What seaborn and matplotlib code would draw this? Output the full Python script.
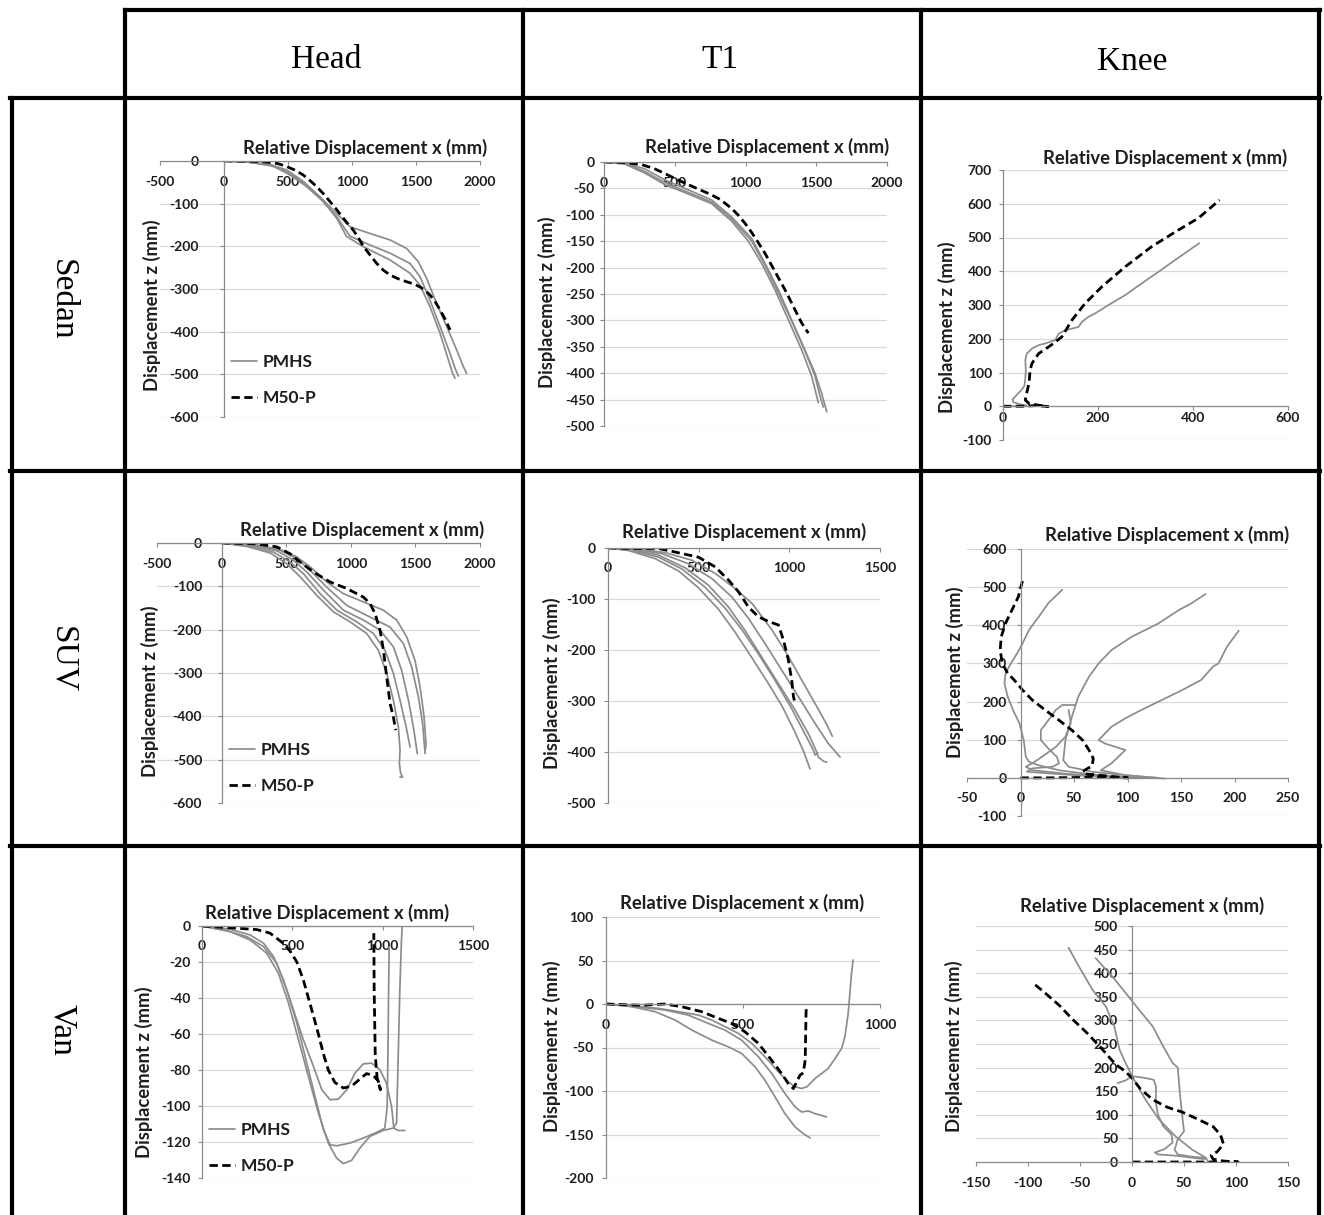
import matplotlib
matplotlib.use("Agg")
import matplotlib.pyplot as plt
from matplotlib.lines import Line2D
from matplotlib.ticker import MultipleLocator
import numpy as np
import pandas as pd
import seaborn as sns

# ------------------------------------------------------------------
# Trajectories: (relative displacement x, displacement z) in mm
# ------------------------------------------------------------------
# Sedan / Head
sedan_head_m50 = [(0, 0), (150, -0.5), (307, -1.5), (420, -6), (490, -13), (560, -22), (620, -33),
                  (680, -48), (724, -60), (780, -78), (828, -95), (880, -114), (932, -134), (975, -150),
                  (1010, -162), (1050, -180), (1089, -200), (1140, -220), (1193, -240), (1245, -256),
                  (1297, -267), (1360, -276), (1427, -283), (1480, -288), (1531, -295), (1570, -303),
                  (1609, -314), (1650, -330), (1688, -349), (1730, -372), (1766, -396)]
sedan_head_pmhs_a = [(0, 0), (177, -2), (359, -8), (490, -21), (620, -48), (750, -84), (880, -123),
                     (984, -154), (1141, -170), (1297, -185), (1427, -205), (1518, -236), (1583, -275),
                     (1661, -334), (1740, -388), (1818, -443), (1870, -482), (1896, -498)]
sedan_head_pmhs_b = [(0, 0), (177, -2), (359, -10), (490, -25), (620, -52), (750, -87), (880, -130),
                     (984, -176), (1141, -197), (1297, -216), (1453, -240), (1531, -271), (1609, -326),
                     (1688, -388), (1766, -451), (1805, -486), (1831, -504)]
sedan_head_pmhs_c = [(0, 0), (203, -3), (385, -12), (516, -33), (646, -60), (776, -95), (880, -134),
                     (958, -177), (1089, -201), (1297, -232), (1453, -263), (1531, -291), (1609, -341),
                     (1688, -404), (1753, -466), (1786, -498), (1805, -509)]

# Sedan / T1
sedan_t1_m50 = [(0, 0), (148, -1), (266, -5), (350, -12), (431, -22), (500, -31), (572, -40), (630, -47),
                (690, -54), (750, -61), (808, -69), (855, -78), (902, -88), (950, -101), (996, -116),
                (1045, -134), (1091, -153), (1140, -174), (1185, -196), (1232, -219), (1279, -242),
                (1315, -261), (1350, -280), (1397, -305), (1444, -324)]
sedan_t1_pmhs_a = [(0, 0), (148, -2), (289, -13), (431, -34), (572, -50), (761, -72), (902, -104),
                   (1044, -145), (1138, -192), (1232, -242), (1326, -299), (1420, -356), (1491, -400),
                   (1538, -438), (1574, -473)]
sedan_t1_pmhs_b = [(0, 0), (148, -3), (289, -18), (431, -39), (572, -55), (761, -76), (902, -108),
                   (1044, -150), (1138, -196), (1232, -248), (1326, -301), (1420, -358), (1491, -405),
                   (1527, -444), (1550, -464)]
sedan_t1_pmhs_c = [(0, 0), (148, -4), (289, -21), (431, -43), (572, -58), (761, -79), (902, -112),
                   (1020, -150), (1114, -192), (1208, -242), (1303, -299), (1397, -356), (1468, -406),
                   (1515, -456)]

# Sedan / Knee
sedan_knee_m50 = [(0, 0), (45, 0), (70, 2), (95, -1), (75, 3), (55, 8), (47, 18), (50, 40), (55, 70),
                  (57, 107), (61, 127), (75, 156), (96, 176), (110, 190), (124, 206), (145, 255),
                  (173, 305), (208, 354), (257, 413), (313, 473), (369, 522), (411, 557), (456, 611)]
sedan_knee_pmhs = [(0, 0), (30, 0), (50, 2), (35, 6), (22, 12), (20, 20), (28, 32), (38, 47), (45, 60),
                   (47, 82), (48, 107), (47, 137), (50, 156), (61, 171), (75, 181), (89, 186), (99, 191),
                   (110, 196), (117, 215), (131, 225), (145, 230), (159, 235), (166, 250), (180, 265),
                   (194, 275), (222, 300), (257, 329), (292, 364), (327, 398), (362, 433), (413, 483)]

# SUV / Head
suv_head_m50 = [(0, 0), (273, -2), (428, -9), (531, -25), (608, -44), (711, -67), (840, -90),
                (969, -105), (1098, -125), (1149, -140), (1188, -163), (1227, -202), (1253, -248),
                (1278, -310), (1304, -371), (1330, -402), (1343, -425), (1348, -432)]
suv_head_pmhs_a = [(0, 0), (273, -5), (454, -15), (582, -32), (686, -55), (814, -90), (943, -117),
                   (1098, -136), (1252, -155), (1356, -178), (1433, -217), (1497, -271), (1536, -332),
                   (1567, -401), (1582, -463), (1577, -478)]
suv_head_pmhs_b = [(0, 0), (273, -5), (454, -17), (582, -36), (686, -63), (814, -102), (969, -144),
                   (1149, -171), (1304, -194), (1407, -232), (1471, -286), (1523, -355), (1556, -417),
                   (1575, -486)]
suv_head_pmhs_c = [(0, 0), (247, -6), (428, -18), (557, -40), (660, -67), (789, -109), (943, -155),
                   (1098, -178), (1227, -201), (1330, -240), (1394, -294), (1446, -363), (1484, -424),
                   (1515, -486)]
suv_head_pmhs_d = [(0, 0), (222, -7), (402, -21), (531, -44), (634, -71), (763, -117), (892, -155),
                   (1046, -182), (1175, -209), (1265, -248), (1330, -301), (1381, -363), (1428, -424),
                   (1459, -471)]
suv_head_pmhs_e = [(0, 0), (196, -8), (376, -23), (505, -48), (608, -78), (737, -121), (866, -159),
                   (995, -182), (1124, -209), (1214, -248), (1278, -301), (1330, -363), (1368, -424),
                   (1381, -478), (1376, -509), (1386, -532), (1402, -540), (1381, -540)]

# SUV / T1
suv_t1_m50 = [(0, 0), (132, -1), (279, -1), (371, -8), (499, -18), (591, -37), (665, -63), (720, -86),
              (775, -116), (830, -135), (885, -144), (940, -151), (968, -181), (995, -220), (1013, -259),
              (1023, -292), (1028, -299)]
suv_t1_pmhs_a = [(0, 0), (169, -2), (314, -9), (463, -24), (592, -50), (703, -80), (795, -109),
                 (905, -161), (997, -214), (1089, -272), (1163, -318), (1209, -348), (1237, -369)]
suv_t1_pmhs_b = [(0, 0), (152, -3), (297, -11), (444, -31), (573, -60), (683, -96), (775, -138),
                 (867, -188), (959, -240), (1051, -292), (1142, -344), (1216, -384), (1280, -410)]
suv_t1_pmhs_c = [(0, 0), (132, -3), (279, -14), (426, -39), (554, -73), (665, -116), (756, -162),
                 (848, -214), (940, -266), (1032, -318), (1105, -364), (1151, -400), (1160, -410),
                 (1188, -418), (1206, -420)]
suv_t1_pmhs_d = [(0, 0), (132, -5), (279, -18), (407, -41), (536, -77), (646, -118), (738, -160),
                 (830, -208), (922, -260), (1013, -315), (1087, -365), (1133, -397), (1142, -406),
                 (1157, -402)]
suv_t1_pmhs_e = [(0, 0), (114, -5), (261, -21), (389, -45), (499, -78), (609, -120), (701, -165),
                 (793, -215), (885, -266), (960, -310), (1030, -360), (1080, -400), (1114, -433)]

# SUV / Knee
suv_knee_m50 = [(0, 0), (30, 0), (55, 1), (75, 3), (88, 1), (100, 0), (80, 5), (62, 10), (58, 16),
                (61, 22), (67, 31), (68, 51), (64, 73), (58, 99), (48, 125), (36, 151), (23, 178),
                (11, 204), (2, 230), (-6, 257), (-12, 274), (-17, 300), (-19, 335), (-18, 370),
                (-14, 405), (-8, 440), (-2, 475), (2, 518)]
suv_knee_pmhs_a = [(39, 493), (26, 458), (17, 422), (8, 388), (2, 353), (-3, 327), (-9, 300), (-14, 274),
                   (-15, 248), (-12, 213), (-7, 178), (-1, 143), (3, 99), (5, 55), (8, 42), (17, 33),
                   (36, 20), (61, 11), (85, 4), (110, 0)]
suv_knee_pmhs_b = [(173, 482), (160, 458), (148, 440), (129, 405), (104, 370), (85, 335), (73, 300),
                   (64, 265), (54, 213), (48, 160), (42, 99), (40, 46), (45, 29), (67, 16), (98, 7),
                   (135, -2)]
suv_knee_pmhs_c = [(204, 386), (193, 344), (185, 300), (180, 292), (169, 257), (151, 230), (132, 204),
                   (113, 178), (98, 156), (85, 134), (73, 99), (79, 90), (98, 73), (85, 38), (75, 20),
                   (98, 7), (129, 0)]
suv_knee_pmhs_d = [(51, 191), (39, 191), (33, 178), (26, 151), (19, 125), (19, 99), (26, 77), (34, 55),
                   (36, 38), (30, 29), (11, 25), (6, 16), (30, 11), (67, 4), (104, 0)]
suv_knee_pmhs_e = [(45, 178), (47, 143), (42, 108), (33, 81), (20, 55), (11, 38), (5, 29), (11, 20),
                   (42, 11), (85, 3), (123, 0)]

# Van / Head
van_head_m50 = [(0, 0), (156, -1), (304, -2), (377, -4), (442, -9), (488, -14), (525, -20), (561, -30),
                (589, -40), (617, -50), (644, -60), (672, -71), (699, -80), (736, -87), (782, -90),
                (828, -89), (874, -85), (911, -82), (948, -83), (975, -86), (988, -91), (970, -85),
                (959, -72), (953, -36), (951, -4)]
van_head_pmhs_a = [(0, 0), (156, -1.8), (267, -5.0), (341, -9.6), (396, -17.0), (451, -30.0),
                   (506, -46.6), (561, -63.2), (617, -78.0), (663, -91.0), (709, -96.5), (755, -96.2),
                   (801, -91.0), (847, -81.7), (893, -76.6), (939, -76.2), (985, -79.9), (1021, -87.3),
                   (1049, -100.2), (1062, -112.3), (1086, -113.6), (1123, -113.6)]
van_head_pmhs_b = [(0, 0), (138, -2.6), (248, -5.9), (341, -11.5), (414, -20.7), (469, -35.5),
                   (525, -54.0), (580, -76.2), (635, -98.4), (672, -113.2), (709, -121.5), (745, -122.1),
                   (819, -120.6), (893, -117.8), (966, -114.7), (1012, -112.3), (1025, -100.2),
                   (1029, -72.5), (1033, -35.5), (1036, -11.5)]
van_head_pmhs_c = [(0, 0), (156, -3.1), (267, -7.8), (359, -15.2), (423, -26.3), (479, -42.9),
                   (534, -63.2), (589, -83.6), (644, -103.9), (699, -120.6), (745, -128.9), (782, -132.0),
                   (828, -130.2), (874, -123.4), (929, -116.9), (1003, -113.6), (1058, -112.3),
                   (1077, -109.5), (1086, -72.5), (1095, -35.5), (1104, -7.8), (1113, 7.0)]

# Van / T1
van_t1_m50 = [(0, 0), (69, -0.8), (130, -1.5), (215, 0), (276, -3.1), (349, -8.8), (410, -16.5),
              (458, -22.3), (507, -31.9), (556, -45.3), (604, -64.5), (641, -79.9), (665, -91.4),
              (684, -97.2), (696, -89.5), (708, -81.8), (720, -79.1), (727, -64.5), (730, -10.8),
              (732, -1.2)]
van_t1_pmhs_a = [(0, 0), (94, -2.3), (191, -5), (264, -8.8), (337, -12.7), (386, -18.4), (435, -26.1),
                 (483, -33.8), (532, -45.3), (580, -60.6), (629, -77.9), (665, -89.4), (690, -95.2),
                 (714, -97.1), (733, -95.2), (763, -85.6), (787, -79.9), (811, -74.1), (836, -62.6),
                 (860, -51.1), (872, -37.6), (884, -10.8), (890, 12.3), (896, 35.3), (902, 50.7)]
van_t1_pmhs_b = [(0, 0), (106, -3.1), (215, -6.9), (300, -12.7), (373, -22.3), (434, -30), (495, -41.5),
                 (556, -60.6), (605, -79.9), (653, -102.9), (690, -118.3), (714, -124.1), (738, -122.9),
                 (763, -126), (805, -129.8)]
van_t1_pmhs_c = [(0, 0), (94, -3.1), (179, -8.8), (252, -18.4), (313, -29.9), (386, -41.5), (446, -49.2),
                 (495, -56.8), (544, -72.2), (580, -87.6), (617, -106.8), (653, -126), (690, -141.3),
                 (720, -149), (745, -154)]

# Van / Knee
van_knee_m50 = [(0, 0), (50, 0), (80, 0), (102, 0), (88, 2), (78, 6), (76, 14), (82, 22), (88, 38),
                (85, 58), (78, 75), (62, 92), (48, 106), (34, 116), (20, 132), (8, 155), (0, 178),
                (-7, 193), (-16, 207), (-29, 240), (-44, 275), (-57, 302), (-70, 332), (-83, 357),
                (-95, 379)]
van_knee_pmhs_a = [(-61, 454), (-51, 414), (-38, 365), (-25, 329), (-17, 287), (-12, 238), (-6, 209),
                   (1, 178), (13, 132), (26, 90), (42, 54), (58, 26), (71, 9), (73, 1)]
van_knee_pmhs_b = [(-35, 432), (-19, 393), (-6, 358), (7, 322), (20, 287), (30, 245), (39, 210),
                   (44, 200), (46, 146), (48, 104), (50, 65), (44, 48), (41, 26), (44, 16), (58, 11),
                   (71, 9)]
van_knee_pmhs_c = [(-14, 167), (-6, 173), (0, 182), (13, 178), (21, 174), (23, 160), (23, 125),
                   (25, 100), (30, 76), (38, 58), (39, 41), (31, 27), (22, 20), (25, 16), (44, 13),
                   (58, 9), (70, 6)]

# Table headings
column_titles = ["Head", "T1", "Knee"]
row_titles = ["Sedan", "SUV", "Van"]
series_names = ["PMHS", "M50-P"]
x_title = "Relative Displacement x (mm)"
z_title = "Displacement z (mm)"

# ------------------------------------------------------------------
# Styling
# ------------------------------------------------------------------
sns.set_style("white")
plt.rcParams["font.family"] = ["Lato", "DejaVu Sans"]
plt.rcParams["font.weight"] = "bold"
plt.rcParams["axes.unicode_minus"] = False

W, H = 1324, 1215
fig = plt.figure(figsize=(W / 100, H / 100), dpi=100)
fig.patch.set_facecolor("white")

GRAY = "#8c8c8c"
AXIS = "#8a8a8a"
GRID = "#d9d9d9"
TXT = "#1e1e1e"
SERIF = ["Liberation Serif", "DejaVu Serif"]
TICK_SIZE = 10
LABEL_SIZE = 13.3


def fx(px):
    return px / W


def fy(py):
    return 1 - py / H


# Layout of the nine chart panels (pixel boxes of the plotting area)
PANELS = [
    dict(m50=sedan_head_m50, pmhs=[sedan_head_pmhs_a, sedan_head_pmhs_b, sedan_head_pmhs_c],
         box=(160, 480, 161, 417), xlim=(-500, 2000), xstep=500, ylim=(-600, 0), ystep=100,
         title=(365, 148), ylab=(152, 305), ypad=15, xpad=7.5, legend=(231, 380)),
    dict(m50=sedan_t1_m50, pmhs=[sedan_t1_pmhs_a, sedan_t1_pmhs_b, sedan_t1_pmhs_c],
         box=(604, 887, 162, 426), xlim=(0, 2000), xstep=500, ylim=(-500, 0), ystep=50,
         title=(767, 147), ylab=(547, 302), ypad=4, xpad=7.5, legend=None),
    dict(m50=sedan_knee_m50, pmhs=[sedan_knee_pmhs],
         box=(1003, 1288, 170, 440), xlim=(0, 600), xstep=200, ylim=(-100, 700), ystep=100,
         title=(1165, 158), ylab=(947, 327), ypad=5, xpad=1.5, legend=None),
    dict(m50=suv_head_m50, pmhs=[suv_head_pmhs_a, suv_head_pmhs_b, suv_head_pmhs_c,
                                 suv_head_pmhs_d, suv_head_pmhs_e],
         box=(157, 480, 543, 803), xlim=(-500, 2000), xstep=500, ylim=(-600, 0), ystep=100,
         title=(362, 530), ylab=(150, 691), ypad=11, xpad=7.5, legend=(229, 768)),
    dict(m50=suv_t1_m50, pmhs=[suv_t1_pmhs_a, suv_t1_pmhs_b, suv_t1_pmhs_c, suv_t1_pmhs_d, suv_t1_pmhs_e],
         box=(608, 880, 548, 803), xlim=(0, 1500), xstep=500, ylim=(-500, 0), ystep=100,
         title=(744, 532), ylab=(552, 683), ypad=6, xpad=7, legend=None),
    dict(m50=suv_knee_m50, pmhs=[suv_knee_pmhs_a, suv_knee_pmhs_b, suv_knee_pmhs_c,
                                 suv_knee_pmhs_d, suv_knee_pmhs_e],
         box=(967, 1288, 549, 816), xlim=(-50, 250), xstep=50, ylim=(-100, 600), ystep=100,
         title=(1167, 535), ylab=(955, 672), ypad=7, xpad=7, legend=None),
    dict(m50=van_head_m50, pmhs=[van_head_pmhs_a, van_head_pmhs_b, van_head_pmhs_c],
         box=(202, 473, 926, 1178), xlim=(0, 1500), xstep=500, ylim=(-140, 0), ystep=20,
         title=(327, 913), ylab=(144, 1072), ypad=5, xpad=7, legend=(209, 1148)),
    dict(m50=van_t1_m50, pmhs=[van_t1_pmhs_a, van_t1_pmhs_b, van_t1_pmhs_c],
         box=(606, 880, 917, 1178), xlim=(0, 1000), xstep=500, ylim=(-200, 100), ystep=50,
         title=(742, 903), ylab=(552, 1046), ypad=6, xpad=8, legend=None),
    dict(m50=van_knee_m50, pmhs=[van_knee_pmhs_a, van_knee_pmhs_b, van_knee_pmhs_c],
         box=(976, 1288, 926, 1162), xlim=(-150, 150), xstep=50, ylim=(0, 500), ystep=50,
         title=(1142, 906), ylab=(954, 1046), ypad=7, xpad=7.5, legend=None),
]


def draw_panel(spec):
    l, r, t, b = spec["box"]
    ax = fig.add_axes([fx(l), fy(b), (r - l) / W, (b - t) / H])
    ax.set_facecolor("none")

    pmhs_line = None
    for curve in spec["pmhs"]:
        df = pd.DataFrame(curve, columns=["x", "z"])
        sns.lineplot(data=df, x="x", y="z", sort=False, estimator=None, ax=ax,
                     color=GRAY, lw=1.25, legend=False)
        if pmhs_line is None:
            pmhs_line = ax.get_lines()[-1]
    df = pd.DataFrame(spec["m50"], columns=["x", "z"])
    sns.lineplot(data=df, x="x", y="z", sort=False, estimator=None, ax=ax,
                 color="black", lw=2.0, linestyle=(0, (3, 1.6)), legend=False)
    m50_line = ax.get_lines()[-1]

    ax.set_xlim(*spec["xlim"])
    ax.set_ylim(*spec["ylim"])
    ax.set_xlabel("")
    ax.set_ylabel("")
    ax.xaxis.set_major_locator(MultipleLocator(spec["xstep"]))
    ax.yaxis.set_major_locator(MultipleLocator(spec["ystep"]))

    for side in ("top", "right"):
        ax.spines[side].set_visible(False)
    for side in ("left", "bottom"):
        ax.spines[side].set_position(("data", 0))
        ax.spines[side].set_color(AXIS)
        ax.spines[side].set_linewidth(0.9)
    ax.xaxis.set_ticks_position("bottom")
    ax.yaxis.set_ticks_position("left")

    ax.yaxis.grid(True, color=GRID, lw=0.9)
    ax.xaxis.grid(False)
    ax.set_axisbelow(True)

    ax.tick_params(axis="both", direction="out", length=3, width=0.8, color=AXIS,
                   labelsize=TICK_SIZE, labelcolor=TXT)
    ax.tick_params(axis="y", pad=spec["ypad"])
    ax.tick_params(axis="x", pad=spec["xpad"])
    for lab in ax.get_xticklabels() + ax.get_yticklabels():
        lab.set_fontweight("bold")

    def to_axes(px, py):
        return (px - l) / (r - l), (b - py) / (b - t)

    tx, ty = to_axes(*spec["title"])
    ax.text(tx, ty, x_title, transform=ax.transAxes, ha="center", va="center",
            fontsize=LABEL_SIZE, fontweight="bold", color=TXT)
    yx, yy = to_axes(*spec["ylab"])
    ax.text(yx, yy, z_title, transform=ax.transAxes, ha="center", va="center",
            rotation=90, fontsize=LABEL_SIZE, fontweight="bold", color=TXT)

    if spec["legend"] is not None:
        lx, ly = to_axes(*spec["legend"])
        leg = ax.legend([pmhs_line, m50_line], series_names, loc="center left",
                        bbox_to_anchor=(lx, ly), frameon=False, fontsize=12.5,
                        handlelength=1.5, handletextpad=0.3, labelspacing=1.2,
                        borderpad=0, borderaxespad=0)
        for txt in leg.get_texts():
            txt.set_color(TXT)
            txt.set_fontweight("bold")
    return ax


for spec in PANELS:
    draw_panel(spec)

# ------------------------------------------------------------------
# Table frame and headings
# ------------------------------------------------------------------
frame_segments = [
    ((125, 10), (1320, 10)),
    ((10, 98), (1320, 98)),
    ((10, 471), (1320, 471)),
    ((10, 846), (1320, 846)),
    ((12, 98), (12, 1215)),
    ((125, 10), (125, 1215)),
    ((523, 10), (523, 1215)),
    ((921, 10), (921, 1215)),
    ((1319, 10), (1319, 1215)),
]
for (x0, y0), (x1, y1) in frame_segments:
    fig.add_artist(Line2D([fx(x0), fx(x1)], [fy(y0), fy(y1)], transform=fig.transFigure,
                          color="black", lw=3.0, solid_capstyle="projecting"))

for name, cx, cy in zip(column_titles, [326, 720, 1132], [60, 60, 62]):
    fig.text(fx(cx), fy(cy), name, ha="center", va="center", fontsize=24,
             family=SERIF, fontweight="normal", color="black")
for name, cy in zip(row_titles, [300, 660, 1030]):
    fig.text(fx(62), fy(cy), name, ha="center", va="center", fontsize=24, rotation=270,
             family=SERIF, fontweight="normal", color="black")

fig.savefig("out.png", dpi=100, facecolor="white")
